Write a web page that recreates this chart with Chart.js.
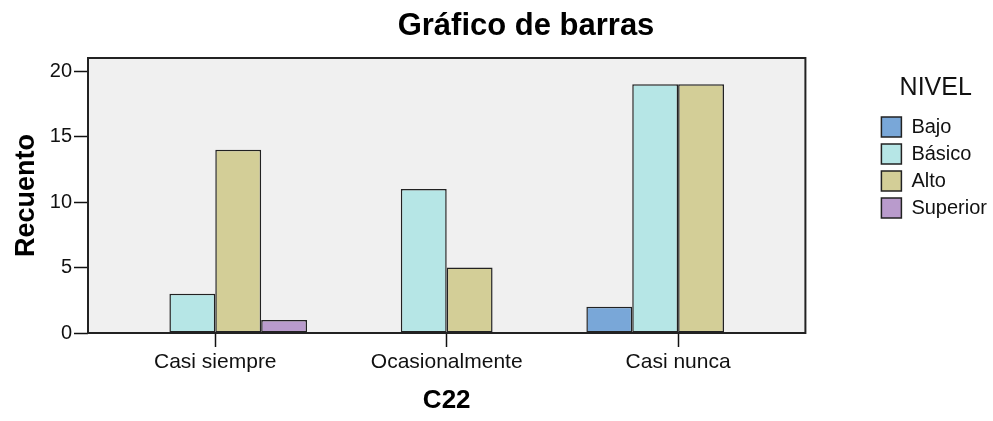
<!DOCTYPE html>
<html>
<head>
<meta charset="utf-8">
<script src="https://cdn.jsdelivr.net/npm/chart.js@4.4.1/dist/chart.umd.min.js"></script>
<style>
    body { margin: 0; background: #fff; }
    #wrap { width: 993px; height: 421px; position: relative; }
</style>
</head>
<body>
<div id="wrap"><canvas id="barChart"></canvas></div>
<script>
    var titulo = "Gráfico de barras";
    var categorias = ["Casi siempre", "Ocasionalmente", "Casi nunca"];
    var niveles = ["Bajo", "Básico", "Alto", "Superior"];

    var bajo = [0, 0, 2];
    var basico = [3, 11, 19];
    var alto = [14, 5, 19];
    var superior = [1, 0, 0];

    var yTicks = [0, 5, 10, 15, 20];

    var colores = ["#79a7d8", "#b6e6e6", "#d3ce97", "#b99bcc"];
    var series = [bajo, basico, alto, superior];

    var fuente = "Arial, 'Liberation Sans', sans-serif";

    function puntos(valores) {
        return valores.map(function (v, i) { return {x: i, y: v}; });
    }

    var barData = {
        datasets: niveles.map(function (nombre, k) {
            return {
                label: nombre,
                data: puntos(series[k]),
                backgroundColor: colores[k],
                borderColor: "#222",
                borderWidth: 1.5,
                borderSkipped: false,
                categoryPercentage: 0.793,
                barPercentage: 1
            };
        })
    };

    // fondo gris y marco del area de trazado
    var marco = {
        id: 'marco',
        beforeDraw: function (chart) {
            var a = chart.chartArea, ctx = chart.ctx;
            ctx.save();
            ctx.fillStyle = "#f0f0f0";
            ctx.fillRect(a.left, a.top, a.right - a.left, a.bottom - a.top);
            ctx.restore();
        },
        afterDatasetsDraw: function (chart) {
            var a = chart.chartArea, ctx = chart.ctx;
            ctx.save();
            ctx.strokeStyle = "#222";
            ctx.lineWidth = 2;
            ctx.strokeRect(a.left, a.top, a.right - a.left, a.bottom - a.top);
            ctx.restore();
        },
        afterDraw: function (chart) {
            var ctx = chart.ctx;
            ctx.save();
            ctx.font = "bold 31px " + fuente;
            ctx.fillStyle = "#000";
            ctx.textAlign = "center";
            ctx.textBaseline = "middle";
            ctx.fillText(titulo, 526, 26);
            ctx.restore();
        }
    };

    var barOptions = {
        responsive: true,
        maintainAspectRatio: false,
        animation: false,
        layout: { padding: { top: 58, right: -4 } },
        plugins: {
            title: { display: false },
            tooltip: { enabled: false },
            legend: {
                position: 'right',
                align: 'start',
                title: {
                    display: true,
                    text: "NIVEL",
                    color: "#111",
                    font: { family: fuente, size: 25 },
                    padding: { top: 18, bottom: 4 }
                },
                labels: {
                    boxWidth: 20,
                    boxHeight: 20,
                    padding: 7,
                    color: "#111",
                    font: { family: fuente, size: 20 }
                }
            }
        },
        scales: {
            x: {
                type: 'linear',
                bounds: 'data',
                min: -0.55,
                max: 2.55,
                offset: false,
                afterFit: function (s) { s.height = 88; },
                afterBuildTicks: function (s) {
                    s.ticks = categorias.map(function (c, i) { return {value: i}; });
                },
                grid: { display: true, drawOnChartArea: false, offset: false, tickLength: 14, tickWidth: 1.5, color: "#111" },
                border: { display: false },
                ticks: {
                    padding: 3,
                    autoSkip: false,
                    maxRotation: 0,
                    color: "#111",
                    font: { family: fuente, size: 21 },
                    callback: function (v) { return categorias[v]; }
                },
                title: {
                    display: true,
                    text: "C22",
                    color: "#000",
                    font: { family: fuente, size: 26, weight: 'bold' },
                    padding: { top: 0, bottom: 5 }
                }
            },
            y: {
                bounds: 'data',
                min: 0,
                max: 21,
                afterFit: function (s) { s.width = 88; },
                afterBuildTicks: function (s) {
                    s.ticks = yTicks.map(function (v) { return {value: v}; });
                },
                grid: { display: true, drawOnChartArea: false, tickLength: 14, tickWidth: 1.5, color: "#111" },
                border: { display: false },
                ticks: {
                    padding: 2,
                    color: "#111",
                    font: { family: fuente, size: 20 }
                },
                title: {
                    display: true,
                    text: "Recuento",
                    color: "#000",
                    font: { family: fuente, size: 27, weight: 'bold' },
                    padding: { top: 10, bottom: 0 }
                }
            },
            hueco: {
                position: 'right',
                display: true,
                min: 0,
                max: 1,
                afterFit: function (s) { s.width = 69; },
                grid: { display: false },
                border: { display: false },
                ticks: { display: false }
            }
        }
    };

    var ctx = document.getElementById("barChart").getContext("2d");
    new Chart(ctx, {type: 'bar', data: barData, options: barOptions, plugins: [marco]});
</script>
</body>
</html>
